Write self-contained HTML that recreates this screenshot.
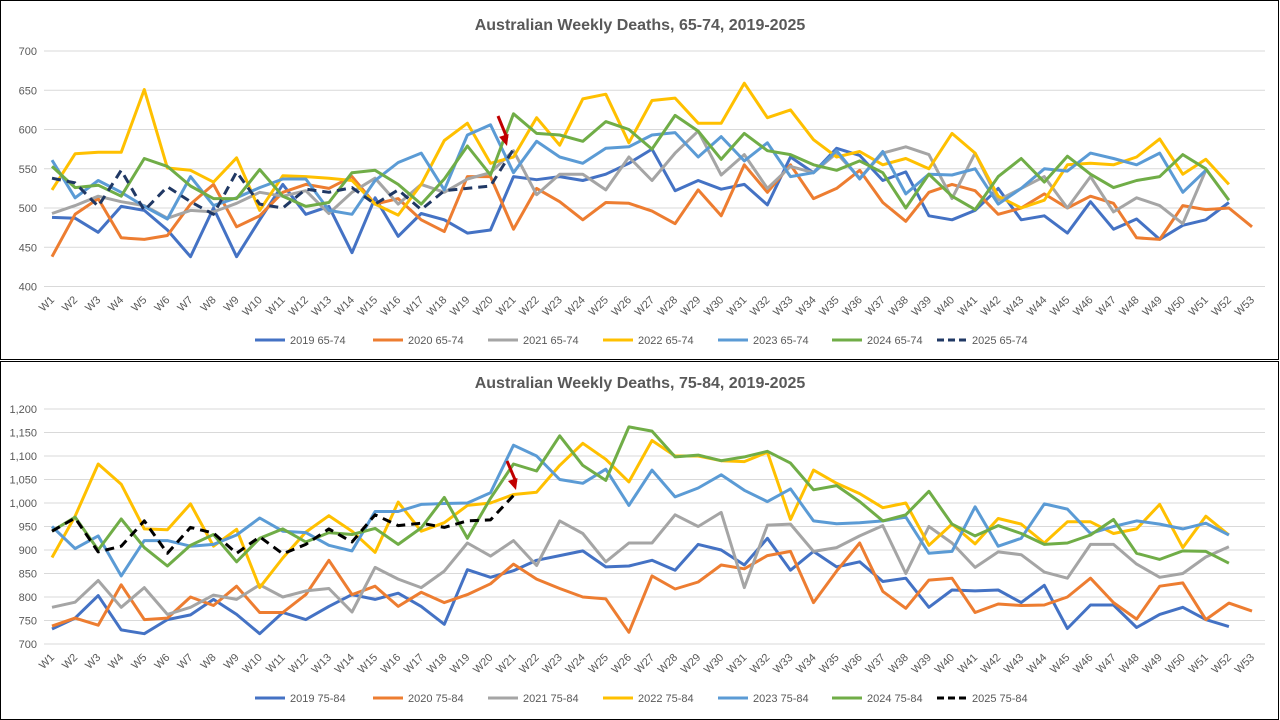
<!DOCTYPE html>
<html><head><meta charset="utf-8">
<style>
body{margin:0;background:#fff;font-family:"Liberation Sans",sans-serif;}
svg{display:block}
</style></head>
<body>
<svg id="c" width="1280" height="720" xmlns="http://www.w3.org/2000/svg"></svg>
<script>
const weeks = Array.from({length:53},(_,i)=>'W'+(i+1));
const seriesNamesTop = ['2019 65-74','2020 65-74','2021 65-74','2022 65-74','2023 65-74','2024 65-74','2025 65-74'];
const seriesNamesBot = ['2019 75-84','2020 75-84','2021 75-84','2022 75-84','2023 75-84','2024 75-84','2025 75-84'];
const top2019=[488,487,469,502,497,472,438,500,438,485,530,492,502,443,513,464,493,485,468,472,540,536,540,535,543,557,575,522,535,524,530,504,565,545,576,567,535,546,490,485,497,525,485,490,468,508,473,486,460,478,485,507];
const top2020=[438,492,512,462,460,465,505,530,476,490,520,530,525,540,505,512,485,470,540,540,473,525,508,485,507,506,496,480,523,490,555,520,555,512,525,548,507,483,520,530,522,492,500,518,500,515,506,462,460,503,498,500,476];
const top2021=[493,503,515,508,503,487,497,495,506,520,515,522,493,520,538,505,530,520,537,545,573,517,543,543,523,565,535,570,598,542,568,525,553,545,570,538,570,578,568,512,570,510,525,540,500,540,495,513,503,480,548];
const top2022=[523,569,571,571,651,551,548,533,564,497,541,540,538,535,505,491,530,586,608,557,565,615,580,639,645,583,637,640,608,608,659,615,625,587,565,572,555,563,550,595,570,515,500,510,555,557,555,565,588,543,562,530];
const top2023=[561,513,535,520,502,486,540,503,513,526,537,537,497,492,535,558,570,523,593,606,545,585,565,557,576,578,593,596,565,591,560,583,540,545,573,537,572,518,543,542,550,505,525,550,547,570,563,555,570,520,548];
const top2024=[553,526,529,515,563,553,528,512,512,549,515,502,507,545,548,530,505,537,579,542,620,595,593,585,610,600,575,618,598,562,595,573,568,555,548,560,545,500,543,515,498,540,563,533,566,543,526,535,540,568,550,510];
const top2025=[538,532,502,548,497,527,508,492,546,505,500,524,520,526,505,523,498,522,525,528,575];
const bot2019=[732,755,803,730,722,752,762,795,763,722,767,752,780,805,795,808,780,742,858,842,856,878,888,898,864,866,878,857,912,900,868,925,857,897,864,875,833,840,778,815,813,815,788,825,733,783,783,735,763,778,752,737];
const bot2020=[738,755,740,826,752,755,800,782,823,767,767,805,878,805,823,780,810,788,805,828,870,838,818,800,796,725,845,817,832,868,860,888,897,788,855,915,812,776,836,840,767,785,782,783,800,840,788,753,823,830,752,787,770];
const bot2021=[778,789,835,778,820,763,778,804,795,826,800,813,818,768,863,838,820,855,915,887,920,867,962,935,875,915,915,975,950,980,820,953,955,897,905,930,952,850,950,915,863,896,890,853,840,912,912,870,842,850,885,907];
const bot2022=[884,972,1083,1040,945,943,998,908,944,820,883,938,973,940,895,1002,940,958,995,1000,1018,1023,1080,1127,1093,1045,1133,1100,1100,1090,1088,1108,965,1070,1042,1020,990,1000,910,955,913,967,955,915,960,960,935,945,997,905,972,932];
const bot2023=[950,903,930,845,920,920,908,912,932,968,940,937,910,898,982,982,997,999,1000,1022,1123,1100,1050,1042,1072,995,1070,1013,1032,1060,1027,1003,1030,962,956,958,962,970,893,897,992,908,925,998,987,935,950,962,955,945,957,932];
const bot2024=[940,970,900,966,905,866,910,933,875,925,945,917,937,933,946,912,947,1012,925,1010,1083,1068,1143,1080,1048,1162,1153,1098,1102,1090,1098,1110,1085,1028,1037,1003,962,975,1025,955,930,952,935,912,915,932,965,893,880,898,897,872];
const bot2025=[940,968,896,908,962,893,948,936,893,928,892,912,945,917,975,952,957,948,962,964,1016];
const topTicks=[400,450,500,550,600,650,700];
const botTicks=[700,750,800,850,900,950,1000,1050,1100,1150,1200];
const colors=['#4472c4','#ed7d31','#a5a5a5','#ffc000','#5b9bd5','#70ad47','#203864'];
const NS='http://www.w3.org/2000/svg';
const svg=document.getElementById('c');
function mk(tag,attrs,parent){const e=document.createElementNS(NS,tag);for(const k in attrs)e.setAttribute(k,attrs[k]);(parent||svg).appendChild(e);return e;}

function panel(o){
  const g=mk('g',{});
  
  
  const fr=mk('rect',{x:o.y0===0?0.5:0.5,y:o.y0+0.5,width:1278,height:o.h,fill:'#fff',stroke:'#000','stroke-width':1},g);
  
  
  const t=mk('text',{x:640,y:o.titleY,'text-anchor':'middle','font-size':16,'font-weight':'bold',fill:'#595959'},g);
  t.textContent=o.title;
  
  
  const x0=52,x1=1252,step=(x1-x0)/52;
  const X=i=>x0+i*step;
  const Y=v=>o.yTop+(o.vMax-v)/(o.vMax-o.vMin)*(o.yBot-o.yTop);
  o.ticks.forEach(v=>{
    const l=mk('line',{x1:44,x2:1265,y1:Y(v),y2:Y(v),stroke:'#d9d9d9','stroke-width':1},g);
    
    
    const tl=mk('text',{x:37,y:Y(v)+4,'text-anchor':'end','font-size':11,fill:'#595959'},g);
    tl.textContent=v>=1000?v.toLocaleString('en-US'):String(v);
    
    
  });
  weeks.forEach((w,i)=>{
    const tx=X(i)+3, ty=o.yBot+14;
    const tl=mk('text',{x:tx,y:ty,'text-anchor':'end','font-size':11,fill:'#595959',transform:`rotate(-45 ${tx} ${ty})`},g);
    tl.textContent=w;
    
    
  });
  o.series.forEach((s,si)=>{
    const pts=s.map((v,i)=>X(i).toFixed(1)+','+Y(v).toFixed(1)).join(' ');
    const last=si===6;
    const p=mk('polyline',{points:pts,fill:'none',stroke:last?o.lastColor:colors[si],'stroke-width':3,'stroke-linejoin':'round','stroke-dasharray':last?'9,6':'none'},g);
    
    
  });
  // arrow
  const a=mk('g',{},g);
  
  
  mk('line',{x1:o.arrow[0],y1:o.arrow[1],x2:o.arrow[2],y2:o.arrow[3]-8,stroke:'#c00000','stroke-width':3},a);
  const dx=o.arrow[2]-o.arrow[0],dy=o.arrow[3]-o.arrow[1],L=Math.hypot(dx,dy),ux=dx/L,uy=dy/L;
  const bx=o.arrow[2]-ux*11,by=o.arrow[3]-uy*11;
  mk('polygon',{points:`${o.arrow[2]},${o.arrow[3]} ${bx-uy*5},${by+ux*5} ${bx+uy*5},${by-ux*5}`,fill:'#c00000'},a);
  const lx=[255,373,488,603,718,832,937];
  o.names.forEach((n,si)=>{
    const lg=mk('g',{},g);
    
    
    const last=si===6;
    mk('line',{x1:lx[si],x2:lx[si]+30,y1:o.legY,y2:o.legY,stroke:last?o.lastColor:colors[si],'stroke-width':3,'stroke-dasharray':last?'7,4':'none'},lg);
    const tt=mk('text',{x:lx[si]+35,y:o.legY+4,'font-size':11,fill:'#595959'},lg);
    tt.textContent=n;
  });
}
panel({name:'chart-65-74',y0:0,h:359,title:'Australian Weekly Deaths, 65-74, 2019-2025',titleY:30,yTop:51,yBot:286.5,vMin:400,vMax:700,ticks:topTicks,
  series:[top2019,top2020,top2021,top2022,top2023,top2024,top2025],names:seriesNamesTop,lastColor:'#203864',legY:340,arrow:[498,116,507,146]});
panel({name:'chart-75-84',y0:361,h:358,title:'Australian Weekly Deaths, 75-84, 2019-2025',titleY:388,yTop:409,yBot:644,vMin:700,vMax:1200,ticks:botTicks,
  series:[bot2019,bot2020,bot2021,bot2022,bot2023,bot2024,bot2025],names:seriesNamesBot,lastColor:'#000000',legY:698,arrow:[507,461,516,490]});
</script>
</body></html>
